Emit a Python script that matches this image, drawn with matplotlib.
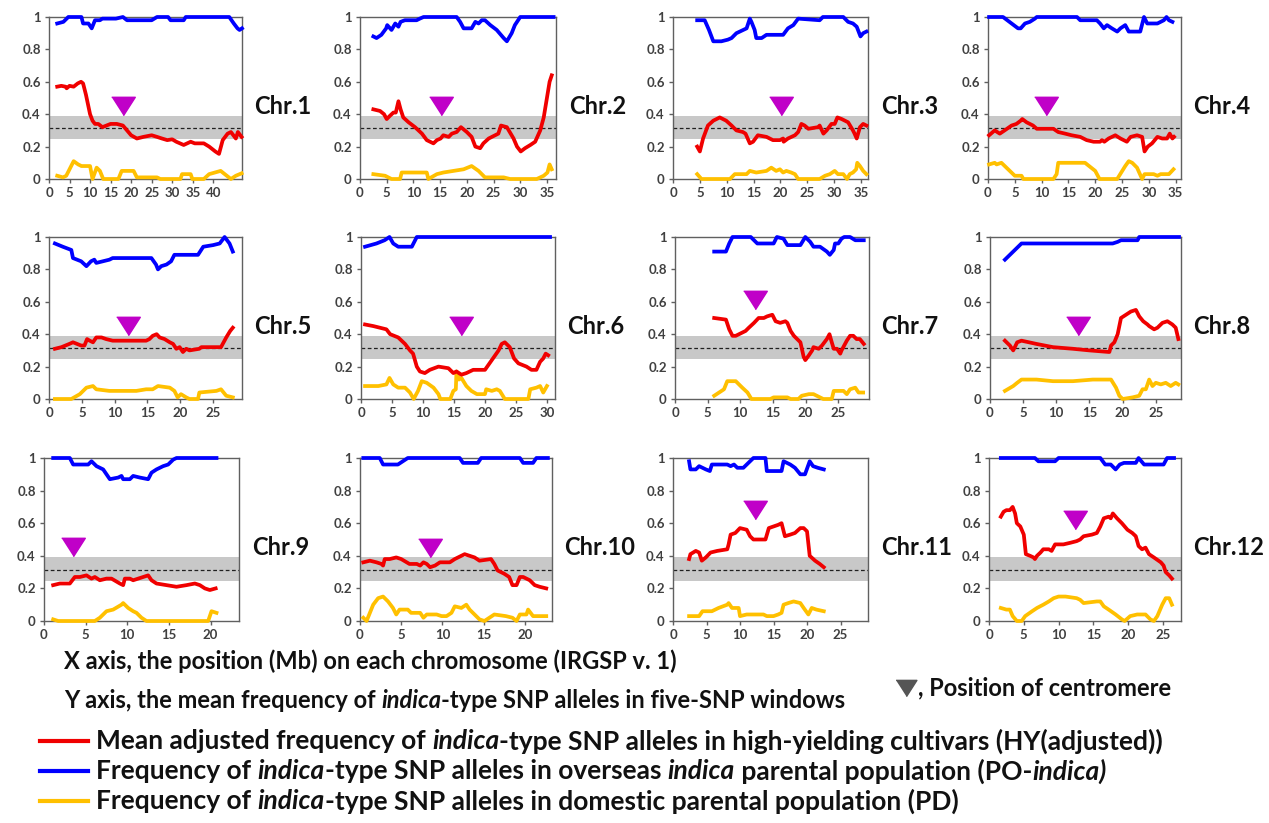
import matplotlib
matplotlib.use("Agg")
import matplotlib.pyplot as plt
from matplotlib.ticker import FixedLocator, MultipleLocator, FuncFormatter
from matplotlib.offsetbox import TextArea, HPacker, AnnotationBbox

plt.rcParams['font.family'] = ['Lato', 'DejaVu Sans']

# ---- data: (Mb, frequency) pairs ----
chrom_names = ["Chr.1", "Chr.2", "Chr.3", "Chr.4", "Chr.5", "Chr.6",
               "Chr.7", "Chr.8", "Chr.9", "Chr.10", "Chr.11", "Chr.12"]
x_max = [47, 36.7, 36.3, 36, 29.4, 31.3, 29.7, 28.8, 23.4, 23.3, 29.1, 27.6]
last_tick = [40, 35, 35, 35, 25, 30, 25, 25, 20, 20, 25, 25]
centromere = [18.1, 15.1, 20.1, 10.8, 12.1, 16.1, 12.3, 13.3, 3.5, 8.5, 12.3, 12.4]
centromere_y = [0.45, 0.45, 0.45, 0.45, 0.45, 0.45, 0.61, 0.45, 0.457, 0.45, 0.68, 0.62]

hy_1 = [(2, .57), (3, .575), (4, .57), (4.3, .56), (5, .575), (6, .57), (7, .59), (7.8, .6), (8.3, .59),
        (9, .52), (9.5, .46), (10, .4), (10.6, .36), (11.2, .34), (12, .34), (13, .32), (14, .33), (15, .34),
        (16.5, .34), (18, .33), (19, .3), (20, .27), (21.4, .25), (23, .26), (25, .27), (26.3, .26),
        (27.5, .25), (28.8, .24), (30, .245), (31, .23), (32.8, .21), (34.5, .23), (35.5, .22), (37.7, .22),
        (39, .2), (40.5, .17), (41.4, .155), (42.3, .24), (43.5, .28), (44.3, .29), (45.5, .25), (46, .29),
        (46.9, .26)]
po_1 = [(2, .96), (3.5, .97), (4.7, 1.0), (7.9, 1.0), (8.3, .96), (9.6, .96), (10.4, .93), (11.2, .98),
        (12.4, .98), (13, .99), (16.3, .99), (18, 1.0), (19, .98), (25, .98), (26.3, 1.0), (29, 1.0),
        (29.6, .98), (32.8, .98), (33.3, 1.0), (43.9, 1.0), (45, .96), (45.9, .93), (46.4, .92), (47, .93)]
pd_1 = [(2, .02), (3.4, .01), (4.2, .02), (6, .11), (7.1, .09), (7.9, .08), (10, .08), (10.6, .0),
        (11.6, .07), (12.4, .05), (13.2, .0), (16.9, .0), (17.7, .05), (20.6, .05), (21.4, .01), (26.3, .01),
        (27.1, .0), (32, .0), (32.4, .03), (34.5, .03), (34.9, .0), (37.7, .0), (39, .03), (41.8, .05),
        (44.3, .0), (45.5, .02), (46.9, .035)]

hy_2 = [(2.5, .43), (3.75, .42), (4.5, .4), (5, .37), (5.6, .39), (6.25, .41), (6.7, .41), (7.2, .48),
        (7.6, .43), (8.1, .38), (9.1, .35), (10.3, .32), (11.6, .28), (12.5, .24), (13.75, .22), (14.4, .24),
        (15.1, .25), (15.6, .27), (16.6, .26), (17.2, .28), (18.1, .29), (18.9, .32), (20, .29), (20.9, .26),
        (21.6, .2), (22.5, .19), (23.1, .22), (24.1, .25), (25.3, .27), (25.9, .28), (26.4, .33), (27.5, .32),
        (28.75, .25), (29.4, .2), (30.1, .17), (30.9, .19), (31.9, .21), (32.8, .23), (33.75, .3), (34.4, .38),
        (35, .5), (35.5, .6), (35.9, .64)]
po_2 = [(2.5, .88), (3.1, .87), (4, .89), (4.9, .93), (5.1, .95), (5.9, .92), (6.6, .96), (7.2, .94),
        (7.6, .97), (8.4, .98), (10.6, .98), (11.2, .99), (11.9, 1.0), (18.1, 1.0), (18.75, .97), (19.4, .93),
        (20.9, .93), (21.6, .97), (22.2, .96), (22.8, .98), (23.4, .98), (24.4, .95), (25.6, .92), (26.9, .87),
        (27.5, .85), (28.4, .9), (29, .95), (30, 1.0), (36.25, 1.0)]
pd_2 = [(2.5, .03), (4.7, .02), (5.9, .0), (7.5, .0), (7.8, .04), (12.5, .04), (12.8, .0), (14.4, .03),
        (15.6, .04), (17.5, .05), (19.4, .06), (20.9, .08), (22.2, .05), (23.4, .01), (26.9, .01), (28.1, .0),
        (33.1, .0), (34.4, .02), (35.1, .04), (35.5, .09), (35.9, .06)]

hy_3 = [(4.5, .2), (5, .17), (5.6, .25), (6.5, .33), (7.5, .36), (8.7, .38), (9.9, .36), (10.9, .33),
        (11.8, .3), (13, .29), (13.5, .28), (14.3, .22), (14.9, .23), (15.8, .27), (17.4, .26), (18.6, .24),
        (19.9, .24), (20.5, .25), (20.6, .23), (21.4, .25), (22.7, .27), (23.3, .29), (23.9, .34), (24.5, .33),
        (25.2, .31), (27, .32), (27.3, .33), (28, .28), (28.6, .3), (29.5, .34), (30.1, .34), (30.6, .38),
        (31.4, .37), (32.6, .35), (33.5, .3), (33.8, .28), (34.2, .25), (34.8, .32), (35.4, .34), (36, .33)]
po_3 = [(4.5, .98), (5.9, .98), (6.7, .92), (7.5, .85), (9, .85), (10.2, .86), (10.9, .87), (11.8, .9),
        (13.7, .93), (14.3, .99), (14.6, .97), (15.2, .92), (15.5, .87), (16.5, .87), (17.4, .89), (20.5, .89),
        (21.4, .93), (22.4, .95), (23.3, .99), (27.3, .98), (27.9, 1.0), (31.7, 1.0), (32.6, .97), (33.5, .96),
        (34.2, .94), (34.9, .88), (35.4, .9), (36, .91)]
pd_3 = [(4.5, .03), (5.3, .0), (10.6, .0), (11.5, .03), (13.7, .03), (14.3, .05), (15.5, .04), (17.4, .05),
        (18.3, .07), (19.2, .05), (19.9, .06), (20.5, .04), (21.1, .05), (22, .04), (22.7, .03), (23.3, .0),
        (27.3, .0), (28.3, .02), (29.2, .03), (30.1, .05), (30.7, .03), (31.7, .03), (32.4, .0), (32.9, .03),
        (33.5, .04), (34.1, .06), (34.3, .1), (34.8, .08), (35.4, .05), (36, .03)]

hy_4 = [(0.2, .27), (1.25, .3), (2.2, .28), (3.1, .3), (4.4, .33), (5.3, .34), (6.1, .36), (6.4, .37),
        (7.2, .35), (8.4, .33), (9.1, .31), (12.2, .31), (13.1, .29), (14.4, .28), (15.6, .27), (17.2, .26),
        (18.4, .24), (19.7, .23), (20.9, .23), (21.25, .24), (21.7, .23), (22.5, .25), (23.75, .27),
        (24.7, .25), (25.9, .23), (26.6, .26), (27.8, .27), (28.75, .26), (29.2, .17), (29.8, .2), (30.6, .22),
        (31.6, .26), (32.5, .25), (33.4, .25), (33.9, .28), (34.4, .25), (34.7, .26)]
po_4 = [(0.2, 1.0), (2.8, 1.0), (4.4, .96), (5.6, .93), (6.1, .93), (6.9, .96), (7.8, .97), (8.75, .99),
        (9.1, 1.0), (16.6, 1.0), (17.2, .98), (20.3, .98), (20.9, .96), (21.6, .93), (22.2, .95), (23.1, .93),
        (24.1, .91), (24.7, .93), (25.6, .95), (26.25, .91), (28.4, .91), (29.1, 1.0), (29.7, .96), (31.6, .96),
        (32.8, .98), (33.3, 1.0), (33.75, .98), (34.4, .97)]
pd_4 = [(0.2, .09), (1.25, .1), (1.6, .09), (2.5, .1), (3.75, .06), (5, .02), (6.25, .02), (6.6, .0),
        (12.2, .0), (12.8, .03), (13.1, .1), (18.1, .1), (20, .05), (20.8, .0), (24.1, .0), (25.6, .08),
        (26.25, .11), (26.9, .1), (27.8, .07), (28.75, .0), (29.2, .03), (30.9, .03), (31.6, .02), (32.2, .03),
        (33.75, .03), (34.6, .06)]

hy_5 = [(0.9, .31), (1.9, .32), (3.1, .34), (3.65, .35), (4.9, .33), (5.4, .33), (5.8, .37), (6.2, .36),
        (6.7, .35), (7.2, .38), (8, .38), (8.7, .37), (9.7, .36), (14.8, .36), (15.3, .37), (15.8, .39),
        (16.4, .4), (16.85, .38), (17.6, .37), (18.4, .35), (18.9, .34), (19.4, .31), (19.9, .32), (20.4, .29),
        (20.9, .31), (21.4, .3), (22.9, .31), (23.2, .32), (26.2, .32), (27, .38), (27.6, .42), (28, .44)]
po_5 = [(0.9, .96), (2.1, .94), (3.4, .92), (3.65, .87), (4.9, .85), (5.7, .82), (6.4, .85), (6.9, .86),
        (7.2, .84), (8.2, .85), (9.2, .86), (9.7, .87), (14.8, .87), (15.6, .87), (16.3, .83), (16.6, .8),
        (17.1, .82), (17.9, .83), (18.6, .85), (19.1, .89), (22.7, .89), (23.5, .94), (25, .95), (26, .96),
        (26.75, 1.0), (27.5, .96), (28, .91)]
pd_5 = [(0.9, .0), (3.4, .0), (4.7, .03), (5.7, .07), (6.7, .08), (7.2, .06), (9.2, .05), (13.3, .05),
        (14.8, .06), (15.8, .06), (16.6, .08), (18.4, .07), (19.1, .05), (19.6, .01), (20.1, .03), (20.9, .01),
        (21.4, .0), (22.7, .0), (22.9, .04), (25.5, .05), (26.2, .06), (27, .02), (28, .01)]

hy_6 = [(0.65, .46), (2, .45), (4.1, .43), (4.7, .4), (6, .38), (7.1, .34), (7.9, .3), (8.4, .28), (9, .2),
        (9.5, .17), (10.3, .16), (11.1, .18), (12.5, .2), (14.1, .19), (14.9, .16), (15.4, .17), (16.2, .15),
        (17, .16), (18.1, .18), (20, .18), (21.1, .24), (22.2, .3), (22.7, .34), (23.2, .35), (24, .32),
        (24.7, .25), (25.4, .22), (26.7, .2), (27.5, .18), (28.3, .18), (28.9, .23), (29.4, .25), (29.8, .28),
        (30.2, .27)]
po_6 = [(0.65, .94), (2.5, .96), (3.8, .98), (4.6, 1.0), (5.2, .96), (6, .94), (8.2, .94), (9, 1.0),
        (30.5, 1.0)]
pd_6 = [(0.65, .08), (2.8, .08), (4.1, .09), (4.6, .13), (5.2, .09), (6, .07), (7.1, .07), (7.9, .04),
        (8.5, .0), (9.2, .05), (9.8, .11), (10.6, .1), (11.7, .07), (12.5, .03), (12.8, .0), (14.4, .0),
        (14.9, .05), (15.3, .06), (15.4, .17), (15.8, .12), (16.2, .13), (17, .08), (17.8, .05), (18.7, .03),
        (20, .03), (20.2, .06), (21.1, .05), (21.9, .06), (22.4, .05), (23.2, .0), (27, .0), (27.3, .06),
        (28.3, .07), (28.9, .08), (29.4, .04), (30, .08)]

hy_7 = [(6, .5), (7.8, .49), (8.3, .43), (8.8, .39), (9.3, .39), (10.3, .41), (10.8, .42), (11.3, .44),
        (12.1, .47), (12.8, .5), (13.6, .5), (14.1, .51), (14.9, .52), (15.4, .48), (16.1, .47), (16.9, .48),
        (17.2, .47), (17.7, .42), (18.2, .39), (18.7, .37), (19.2, .35), (19.7, .26), (19.95, .24), (20.5, .27),
        (21, .3), (21.2, .32), (22, .31), (22.5, .33), (23.25, .37), (23.65, .4), (24, .35), (24.3, .31),
        (24.8, .31), (25.3, .28), (25.5, .3), (25.9, .33), (26.3, .36), (26.8, .39), (27.3, .39), (27.8, .37),
        (28.3, .37), (28.9, .34)]
po_7 = [(6, .91), (7.8, .91), (8.3, .96), (8.8, 1.0), (11.6, 1.0), (12.6, .96), (15.1, .96), (15.6, 1.0),
        (16.6, .99), (17.2, .95), (19.2, .95), (19.95, 1.0), (20.7, .97), (21.2, .94), (22.2, .94),
        (23.25, .91), (23.7, .89), (24.3, .92), (24.5, .96), (25, .96), (25.5, .99), (25.9, 1.0), (26.8, 1.0),
        (27.6, .98), (28.9, .98)]
pd_7 = [(6, .02), (7.5, .06), (8, .11), (9.3, .11), (10.3, .07), (11.1, .04), (11.7, .0), (14.6, .0),
        (15.1, .01), (17.2, .01), (17.7, .0), (18.9, .0), (19.4, .02), (20.5, .03), (21.2, .03), (22.2, .01),
        (22.7, .0), (24, .0), (24.3, .05), (25.8, .05), (26.3, .03), (26.8, .06), (27.6, .07), (28.1, .04),
        (28.8, .04)]

hy_8 = [(2.25, .36), (3, .33), (3.5, .3), (4.1, .35), (4.75, .36), (7, .34), (9.5, .32), (12.5, .31),
        (15, .3), (18, .29), (18.25, .33), (18.75, .35), (19.25, .4), (19.75, .5), (20.5, .52), (21.25, .54),
        (22, .55), (22.5, .51), (23.1, .48), (23.75, .46), (24, .45), (24.75, .43), (25.25, .44), (26, .47),
        (26.75, .48), (27.5, .46), (28, .44), (28.4, .37)]
po_8 = [(2.25, .86), (3.25, .9), (4, .93), (4.75, .96), (18.5, .96), (19.25, .97), (19.75, .98),
        (22.25, .98), (22.5, 1.0), (28.5, 1.0)]
pd_8 = [(2.25, .05), (3.5, .08), (4.1, .1), (4.75, .12), (7, .12), (9.5, .11), (12.5, .11), (15.5, .12),
        (18.25, .12), (19, .07), (19.5, .02), (20, .0), (21.5, .01), (22.5, .02), (23, .06), (23.5, .06),
        (24, .12), (24.5, .08), (25, .1), (25.75, .09), (26.5, .1), (27.25, .08), (28, .1), (28.4, .09)]

hy_9 = [(1.1, .22), (1.9, .23), (3.1, .23), (3.7, .27), (4.3, .27), (5.1, .28), (5.7, .26), (6.1, .27),
        (6.7, .25), (7.5, .26), (8.1, .26), (9.1, .23), (9.5, .22), (9.7, .26), (10.3, .26), (10.7, .25),
        (11.9, .27), (12.5, .28), (12.9, .25), (13.5, .23), (14.7, .22), (15.9, .21), (17.1, .22), (18.1, .23),
        (18.7, .22), (19.3, .2), (19.9, .19), (20.6, .2)]
po_9 = [(1.1, 1.0), (3.1, 1.0), (3.5, .96), (5.3, .96), (5.7, .98), (6.3, .95), (7.1, .93), (7.5, .9),
        (7.9, .87), (8.9, .88), (9.3, .89), (9.5, .87), (10.3, .87), (10.7, .89), (11.5, .88), (12.5, .87),
        (12.9, .91), (13.5, .93), (14.3, .95), (14.9, .96), (15.5, .99), (15.9, 1.0), (20.7, 1.0)]
pd_9 = [(1.1, .01), (1.7, .0), (6.1, .0), (6.7, .02), (7.5, .06), (8.3, .07), (9.3, .1), (9.5, .11),
        (10.1, .08), (10.7, .06), (11.1, .05), (11.7, .02), (12.3, .0), (19.7, .0), (20.1, .06), (20.7, .05)]

hy_10 = [(0.4, .36), (1.2, .37), (2, .36), (2.6, .35), (2.8, .34), (3, .38), (3.6, .38), (4.4, .39),
         (5, .38), (6, .35), (6.9, .35), (7.3, .34), (7.7, .36), (8.1, .35), (8.5, .33), (9.1, .34),
         (9.7, .36), (10.9, .36), (11.5, .38), (12.7, .41), (13.3, .4), (13.9, .39), (14.5, .37), (15.9, .38),
         (16.3, .35), (16.7, .31), (17.5, .29), (18.1, .27), (18.5, .22), (19, .22), (19.4, .27), (19.8, .27),
         (20.6, .25), (21.2, .22), (21.8, .21), (22.6, .2)]
po_10 = [(0.4, 1.0), (2.4, 1.0), (2.8, .96), (4.6, .96), (5.2, .98), (5.8, 1.0), (12.1, 1.0), (12.5, .97),
         (14.3, .97), (14.7, 1.0), (19.4, 1.0), (19.8, .97), (21, .97), (21.4, 1.0), (22.8, 1.0)]
pd_10 = [(0.4, .02), (0.8, .0), (1.2, .05), (1.6, .1), (2.2, .14), (2.8, .15), (3.4, .12), (4, .08),
         (4.4, .04), (4.8, .07), (5.8, .07), (6.2, .05), (7.3, .05), (7.7, .02), (8.1, .04), (9.3, .04),
         (9.9, .03), (10.5, .03), (11.1, .05), (11.5, .09), (12.3, .08), (12.9, .1), (13.3, .07), (13.9, .04),
         (14.5, .01), (15.1, .0), (15.7, .02), (16.3, .04), (17.7, .03), (18.5, .02), (19, .0), (19.4, .04),
         (20.2, .04), (20.4, .07), (21, .03), (22.6, .03)]

hy_11 = [(2.4, .38), (2.6, .41), (3.4, .43), (3.9, .42), (4.3, .37), (4.9, .39), (5.6, .42), (6.6, .43),
         (8.1, .44), (8.3, .47), (8.6, .53), (9.3, .54), (10, .57), (11, .56), (11.5, .52), (12, .5),
         (13.8, .5), (14.3, .57), (15, .58), (15.7, .59), (16.2, .6), (16.7, .52), (17.5, .53), (18.2, .54),
         (19, .57), (19.5, .57), (20, .55), (20.4, .4), (21.2, .37), (21.9, .35), (22.5, .33)]
po_11 = [(2.4, .98), (2.6, .93), (3.4, .93), (3.9, .95), (4.9, .93), (5.5, .92), (5.8, .96), (8.1, .96),
         (8.6, .95), (9.1, .96), (9.6, .94), (10.5, .94), (11, .96), (12, 1.0), (13.8, 1.0), (14, .92),
         (16.2, .92), (16.5, .98), (17.5, .96), (18.2, .94), (19, .9), (19.7, .9), (20.4, .98), (20.9, .95),
         (21.6, .94), (22.5, .93)]
pd_11 = [(2.4, .03), (3.9, .03), (4.4, .06), (5.8, .06), (6.8, .08), (8.1, .1), (8.3, .11), (8.8, .08),
         (9.8, .08), (10, .03), (11, .04), (13.5, .04), (14, .03), (15, .03), (15.7, .04), (16.2, .05),
         (16.5, .1), (17.2, .11), (18, .12), (19, .11), (19.5, .08), (20.2, .04), (20.7, .08), (21.4, .07),
         (22.5, .06)]

hy_12 = [(1.7, .64), (2.1, .67), (2.5, .68), (3, .68), (3.4, .7), (3.75, .66), (4, .6), (4.5, .58),
         (5, .53), (5.3, .41), (5.9, .4), (6.4, .39), (6.6, .38), (6.9, .4), (7.4, .42), (7.8, .44),
         (8.6, .44), (9, .43), (9.5, .47), (10.7, .47), (11.7, .48), (12.6, .49), (13.1, .5), (13.6, .52),
         (14.8, .53), (15.5, .54), (16, .58), (16.5, .63), (17.2, .64), (17.5, .63), (17.8, .66), (18.4, .63),
         (19.1, .6), (19.9, .56), (20.6, .54), (21.1, .52), (21.5, .46), (22, .44), (22.5, .45), (23, .41),
         (23.7, .39), (24.7, .36), (25.1, .34), (25.4, .3), (25.9, .28), (26.3, .26)]
po_12 = [(1.7, 1.0), (6.6, 1.0), (7.1, .98), (9.5, .98), (10, 1.0), (16, 1.0), (16.7, .96), (17.5, .96),
         (18.2, .93), (18.8, .96), (19.4, .97), (21.1, .97), (21.5, 1.0), (22.3, .96), (25.1, .96),
         (25.6, 1.0), (26.6, 1.0)]
pd_12 = [(1.7, .08), (2.5, .07), (3, .07), (3.4, .03), (4, .0), (4.7, .0), (5.2, .03), (6.2, .06),
         (6.9, .08), (7.8, .1), (8.6, .12), (9.3, .14), (10, .15), (11, .15), (12.6, .14), (13.1, .13),
         (13.6, .11), (15.5, .12), (16, .12), (16.5, .09), (17.2, .07), (18.2, .04), (19.1, .01), (19.5, .0),
         (20.3, .03), (21.3, .04), (22.5, .04), (23.2, .01), (23.7, .0), (24.2, .03), (24.9, .1), (25.4, .14),
         (25.9, .14), (26.3, .1)]

hy_all = [hy_1, hy_2, hy_3, hy_4, hy_5, hy_6, hy_7, hy_8, hy_9, hy_10, hy_11, hy_12]
po_all = [po_1, po_2, po_3, po_4, po_5, po_6, po_7, po_8, po_9, po_10, po_11, po_12]
pd_all = [pd_1, pd_2, pd_3, pd_4, pd_5, pd_6, pd_7, pd_8, pd_9, pd_10, pd_11, pd_12]

band_lo, band_hi, band_mid = 0.245, 0.39, 0.315

RED, BLUE, YEL, MAG = "#f00000", "#0000ff", "#ffc000", "#c000c8"
TXT = "#404040"

W, H = 1269, 823
fig = plt.figure(figsize=(W / 100, H / 100), dpi=100)

# pixel boxes of each panel: left, right, top, bottom
lefts = [[49, 360, 673, 988], [49, 361, 675, 990], [44, 360, 673, 989]]
rights = [[242, 556, 868, 1181], [242, 555, 869, 1181], [239, 552, 868, 1181]]
tops = [17, 237, 458]
bots = [179, 399, 621]

tri = [(-1, 0.78), (1, 0.78), (0, -0.78)]

for i in range(12):
    r, c = divmod(i, 4)
    l, rr = lefts[r][c], rights[r][c]
    ax = fig.add_axes([l / W, 1 - bots[r] / H, (rr - l) / W, (bots[r] - tops[r]) / H])
    ax.set_xlim(0, x_max[i])
    ax.set_ylim(0, 1)
    ax.axhspan(band_lo, band_hi, color="#c8c8c8", lw=0, zorder=0)
    ax.axhline(band_mid, color="#202020", lw=0.9, ls=(0, (3, 2)), zorder=1)
    for data, col in [(pd_all[i], YEL), (po_all[i], BLUE), (hy_all[i], RED)]:
        xs, ys = zip(*data)
        ax.plot(xs, ys, color=col, lw=2.7, clip_on=False, zorder=3, solid_joinstyle="round")
    ax.plot([centromere[i]], [centromere_y[i]], marker=tri, ms=17, color=MAG, mec=MAG, zorder=4)
    ax.xaxis.set_major_locator(FixedLocator(list(range(0, last_tick[i] + 1, 5))))
    ax.yaxis.set_major_locator(MultipleLocator(0.2))
    ax.yaxis.set_major_formatter(FuncFormatter(lambda v, p: f"{v:.1f}".rstrip("0").rstrip(".") if v else "0"))
    ax.tick_params(direction="out", length=3, width=1, color="#606060", labelsize=9.5,
                   labelcolor=TXT, pad=3)
    for lab in ax.get_xticklabels() + ax.get_yticklabels():
        lab.set_fontweight("bold")
    for s in ax.spines.values():
        s.set_color("#606060")
        s.set_linewidth(1)
    ax.text(1.065, 0.45, chrom_names[i], transform=ax.transAxes, fontsize=17, fontweight="bold",
            color="#111111", va="center", ha="left")


def line_of(x, y, parts, size):
    # one line of text made of pieces, some in italic
    boxes = [TextArea(s, textprops=dict(fontsize=size, weight="bold", style=st, color="#111111"))
             for s, st in parts]
    pack = HPacker(children=boxes, align="baseline", pad=0, sep=0)
    ab = AnnotationBbox(pack, (x / W, 1 - y / H), xycoords="figure fraction", box_alignment=(0, 0.5),
                        frameon=False, pad=0)
    fig.add_artist(ab)


line_of(64, 661, [("X axis, the position (Mb) on each chromosome (IRGSP v. 1)", "normal")], 17)
line_of(64, 701, [("Y axis, the mean frequency of ", "normal"), ("indica", "italic"),
                  ("-type SNP alleles in five-SNP windows", "normal")], 17)
line_of(918, 688, [(", Position of centromere", "normal")], 17)
fig.lines.append(plt.Line2D([906 / W], [1 - 688 / H], transform=fig.transFigure, marker=tri, ms=15,
                            color="#555555", ls="none"))

legend_y = [741, 771, 801]
legend_col = [RED, BLUE, YEL]
legend_txt = [
    [("Mean adjusted frequency of ", "normal"), ("indica", "italic"),
     ("-type SNP alleles in high-yielding cultivars (HY(adjusted))", "normal")],
    [("Frequency of ", "normal"), ("indica", "italic"),
     ("-type SNP alleles in overseas ", "normal"), ("indica", "italic"),
     (" parental population (PO-", "normal"), ("indica)", "italic")],
    [("Frequency of ", "normal"), ("indica", "italic"),
     ("-type SNP alleles in domestic parental population (PD)", "normal")],
]
for yy, col, parts in zip(legend_y, legend_col, legend_txt):
    fig.lines.append(plt.Line2D([40 / W, 88 / W], [1 - yy / H, 1 - yy / H], transform=fig.transFigure,
                                color=col, lw=3))
    line_of(96, yy, parts, 19)

fig.savefig("out.png", dpi=100)
